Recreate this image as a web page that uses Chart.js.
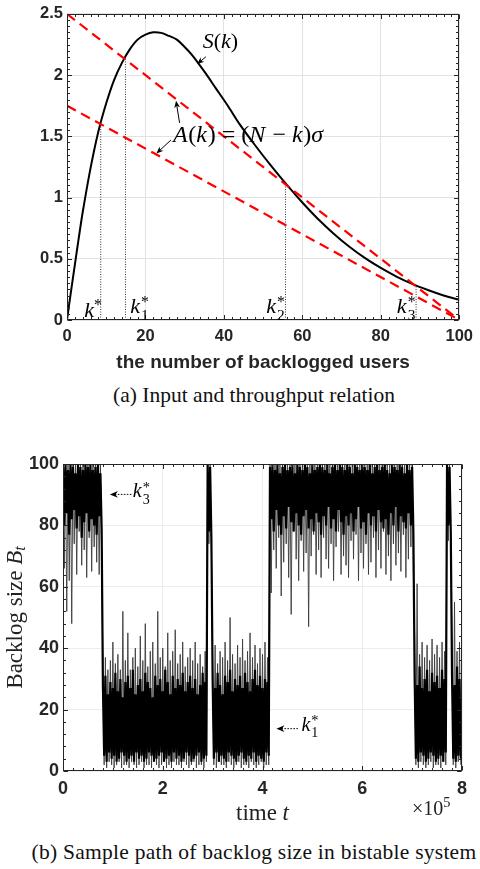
<!DOCTYPE html>
<html>
<head>
<meta charset="utf-8">
<script src="https://cdn.jsdelivr.net/npm/chart.js@4.4.1/dist/chart.umd.min.js"></script>
<style>
  body { margin: 0; background: #fff; }
  #page { position: relative; width: 480px; height: 869px; overflow: hidden; }
  .box { position: absolute; left: 0; width: 480px; }
  .caption { position: absolute; left: 14px; width: 480px; text-align: center; color: #111;
    font: 21.5px "Liberation Serif", "Times New Roman", serif; line-height: 24px; white-space: nowrap; }
</style>
</head>
<body>
<div id="page">
  <div class="box" style="top:0"><canvas id="relation" width="480" height="375"></canvas></div>
  <div class="caption" style="top:383px">(a) Input and throughput relation</div>
  <div class="box" style="top:440px"><canvas id="backlog" width="480" height="390"></canvas></div>
  <div class="caption" style="top:840px; letter-spacing:0.25px">(b) Sample path of backlog size in bistable system</div>
</div>
<script>
// (a) throughput S(k) and the two arrival lines A(k) = (N - k) sigma
const kValues = [0, 1, 2, 3, 4, 6, 8, 10, 12, 14, 16, 18, 20, 22, 24, 26, 28, 30, 32, 35, 38, 41, 44,
  48, 52, 56, 60, 64, 68, 72, 76, 80, 84, 88, 92, 96, 100];
const throughput = [0, 0.23, 0.45, 0.67, 0.88, 1.24, 1.54, 1.77, 1.96, 2.10, 2.21, 2.29, 2.33, 2.35, 2.345,
  2.32, 2.29, 2.23, 2.16, 2.03, 1.89, 1.75, 1.60, 1.425, 1.26, 1.105, 0.96, 0.825, 0.705, 0.598, 0.505,
  0.425, 0.355, 0.295, 0.245, 0.20, 0.165];
const arrivalK = [0, 100];
const arrivalSteep = [2.5, 0];
const arrivalFlat = [1.75, 0];
const fixedK = [8.6, 14.9, 55.7, 89.0];
const fixedS = [1.6, 2.13, 1.107, 0.28];
const fixedNames = ['', '1', '2', '3'];

// (b) backlog sample path, one bin = 0.05 x 10^5 slots: dense band and outer spikes
const binWidth = 0.05;
const coreHigh = [
  99, 100, 98, 100, 99, 97, 100, 99, 98, 100, 99, 100, 98, 99, 100, 97,
  28, 31, 25, 29, 27, 32, 26, 30, 24, 29, 31, 27, 33, 25, 28, 30, 26, 32, 29, 27,
  24, 31, 28, 30, 26, 33, 29, 25, 31, 27, 30, 28, 32, 26, 29, 31, 27, 30, 25, 28, 32, 29,
  100, 99,
  30, 27, 32, 28, 25, 31, 29, 33, 26, 30, 28, 31, 27, 32, 29, 26, 30, 33, 28, 31, 27, 30, 29,
  99, 100, 98, 100, 97, 99, 100, 98, 99, 100, 97, 100, 99, 98, 100, 99, 97, 100, 98, 99,
  100, 99, 98, 100, 97, 99, 100, 98, 100, 99, 98, 100, 99, 97, 100, 99, 98, 100, 99, 98,
  100, 97, 99, 100, 98, 99, 100, 98, 97, 100, 99, 98, 100, 99, 97, 100, 98, 99,
  31, 28, 34, 27, 30, 33, 26, 32, 29, 31, 27, 33, 30,
  100, 99,
  31, 28, 34, 30
];
const coreLow = [
  80, 84, 77, 82, 85, 79, 83, 76, 81, 84, 78, 82, 80, 77, 83, 79,
  5, 3, 6, 4, 5, 3, 4, 6, 5, 3, 4, 5, 3, 6, 4, 5, 3, 4, 6, 5,
  3, 4, 5, 6, 3, 4, 5, 3, 6, 4, 5, 3, 4, 6, 5, 3, 4, 5, 6, 3, 4, 5,
  78, 76,
  4, 6, 3, 5, 4, 3, 6, 5, 4, 3, 5, 6, 4, 3, 5, 4, 6, 3, 5, 4, 3, 6, 5,
  82, 78, 85, 80, 77, 83, 79, 86, 81, 78, 84, 80, 77, 83, 85, 79, 82, 78, 84, 81,
  77, 83, 80, 86, 79, 82, 78, 85, 81, 77, 83, 80, 84, 78, 82, 86, 79, 81, 77, 84,
  80, 83, 78, 85, 81, 79, 82, 77, 84, 80, 86, 78, 83, 81, 79, 84, 80, 78,
  4, 3, 6, 5, 3, 4, 6, 5, 3, 4, 5, 3, 6,
  80, 78,
  4, 3, 5, 4
];
const spikeHigh = [
  100, 100, 100, 100, 100, 100, 100, 100, 100, 100, 100, 100, 100, 100, 100, 100,
  34, 37, 33, 36, 42, 35, 38, 33, 52, 36, 45, 33, 37, 40, 34, 44, 36, 48, 34, 39,
  42, 35, 52, 37, 40, 34, 45, 36, 39, 46, 35, 38, 42, 34, 37, 40, 36, 42, 35, 38, 34, 39,
  100, 100,
  36, 41, 35, 39, 37, 42, 36, 50, 38, 35, 41, 37, 43, 36, 39, 45, 37, 41, 35, 40, 38, 42, 37,
  100, 100, 100, 100, 100, 100, 100, 100, 100, 100, 100, 100, 100, 100, 100, 100, 100, 100, 100, 100,
  100, 100, 100, 100, 100, 100, 100, 100, 100, 100, 100, 100, 100, 100, 100, 100, 100, 100, 100, 100,
  100, 100, 100, 100, 100, 100, 100, 100, 100, 100, 100, 100, 100, 100, 100, 100, 100, 100,
  44, 61, 38, 42, 37, 41, 36, 43, 38, 41, 37, 42, 39,
  100, 100,
  41, 55, 39, 42
];
const spikeLow = [
  66, 52, 62, 48, 74, 64, 78, 67, 72, 63, 76, 65, 73, 68, 64, 70,
  2, 1, 3, 2, 1, 2, 3, 1, 2, 2, 1, 3, 2, 1, 2, 3, 1, 2, 2, 1,
  3, 2, 1, 2, 3, 1, 2, 1, 3, 2, 2, 1, 3, 2, 1, 2, 3, 1, 2, 2, 1, 3,
  74, 73,
  2, 1, 3, 2, 2, 1, 3, 2, 1, 2, 3, 1, 2, 2, 1, 3, 2, 1, 2, 3, 1, 2, 2,
  58, 72, 66, 76, 57, 68, 74, 63, 51, 78, 69, 62, 75, 65, 71, 47, 70, 77, 64, 72,
  63, 76, 69, 66, 74, 62, 73, 78, 64, 70, 67, 63, 75, 69, 77, 62, 71, 66, 74, 64,
  68, 76, 63, 72, 66, 78, 64, 70, 62, 74, 67, 71, 65, 77, 63, 69, 73, 65,
  2, 1, 3, 2, 1, 2, 3, 1, 2, 2, 1, 3, 2,
  75, 74,
  2, 1, 3, 2
];

const SERIF = '"Liberation Serif", "Times New Roman", serif';
const SANS = '"Liberation Sans", Arial, Helvetica, sans-serif';

function line(xs, ys) {
  return xs.map((x, i) => ({ x: x, y: ys[i] }));
}

// each bin goes up to its top value and back down to its bottom value
function zigzag(top, bottom) {
  const pts = [];
  top.forEach((v, i) => {
    pts.push({ x: i * binWidth, y: v }, { x: (i + 0.5) * binWidth, y: bottom[i] });
  });
  return pts;
}

function mathText(ctx, x, y, runs, size) {
  for (const r of runs) {
    const s = size * (r.sc || 1);
    ctx.font = (r.it ? 'italic ' : '') + s + 'px ' + SERIF;
    ctx.fillText(r.t, x, y + (r.dy || 0) * size);
    x += ctx.measureText(r.t).width + (r.gap || 0) * size;
  }
  return x;
}

function kLabel(ctx, x, y, sub, size) {
  const runs = [{ t: 'k', it: true }];
  if (sub) {
    mathText(ctx, x, y - 4, runs, size);
    ctx.font = 'italic ' + size + 'px ' + SERIF;
    const w = ctx.measureText('k').width;
    mathText(ctx, x + w + 1, y - 4, [{ t: '*', sc: 0.72, dy: -0.28 }], size);
    mathText(ctx, x + w + 1, y, [{ t: sub, sc: 0.7, dy: 0.12 }], size);
  } else {
    runs.push({ t: '*', sc: 0.72, dy: -0.3 });
    mathText(ctx, x, y, runs, size);
  }
}

function arrow(ctx, x0, y0, x1, y1, head, dash) {
  const ang = Math.atan2(y1 - y0, x1 - x0);
  ctx.save();
  ctx.lineWidth = 1;
  if (dash) ctx.setLineDash(dash);
  ctx.beginPath();
  ctx.moveTo(x0, y0);
  ctx.lineTo(x1 - Math.cos(ang) * head * 0.6, y1 - Math.sin(ang) * head * 0.6);
  ctx.stroke();
  ctx.setLineDash([]);
  ctx.translate(x1, y1);
  ctx.rotate(ang);
  ctx.beginPath();
  ctx.moveTo(0, 0);
  ctx.lineTo(-head, -head * 0.42);
  ctx.lineTo(-head * 0.7, 0);
  ctx.lineTo(-head, head * 0.42);
  ctx.closePath();
  ctx.fill();
  ctx.restore();
}

// box round the plot with MATLAB style inward ticks on all four sides
const frame = {
  id: 'frame',
  afterDatasetsDraw(chart, args, opts) {
    const { ctx, chartArea: a, scales: { x, y } } = chart;
    const L = Math.round(a.left) + 0.5, R = Math.round(a.right) - 0.5;
    const T = Math.round(a.top) + 0.5, B = Math.round(a.bottom) - 0.5;
    ctx.save();
    ctx.strokeStyle = '#262626';
    ctx.lineWidth = 1;
    ctx.beginPath();
    const marks = (scale, minor, major, draw) => {
      const n = Math.round((scale.max - scale.min) / minor);
      for (let i = 0; i <= n; i++) {
        const v = scale.min + i * minor;
        const r = v / major;
        const len = Math.abs(r - Math.round(r)) < 1e-6 ? 4.5 : 2.5;
        draw(Math.round(scale.getPixelForValue(v)) + 0.5, len);
      }
    };
    marks(x, opts.xMinor, opts.xMajor, (p, len) => {
      ctx.moveTo(p, B); ctx.lineTo(p, B - len);
      ctx.moveTo(p, T); ctx.lineTo(p, T + len);
    });
    marks(y, opts.yMinor, opts.yMajor, (p, len) => {
      ctx.moveTo(L, p); ctx.lineTo(L + len, p);
      ctx.moveTo(R, p); ctx.lineTo(R - len, p);
    });
    ctx.stroke();
    ctx.strokeRect(L, T, R - L, B - T);
    ctx.restore();
  }
};

function axis(min, max, step, size, gridColor, width, height) {
  return {
    type: 'linear', min: min, max: max,
    grid: { color: gridColor, lineWidth: 1, drawTicks: false },
    border: { display: false },
    ticks: { stepSize: step, color: '#262626', padding: width ? 4 : 7,
      font: { family: SANS, size: size, weight: 'bold' },
      callback: (v) => String(Math.round(v * 100) / 100) },
    afterFit: (scale) => { if (width) scale.width = width; else scale.height = height; }
  };
}

const relationNotes = {
  id: 'relationNotes',
  afterDraw(chart) {
    const { ctx, chartArea: a, scales: { x, y } } = chart;
    const px = (k) => x.getPixelForValue(k), py = (v) => y.getPixelForValue(v);
    ctx.save();
    ctx.fillStyle = '#000';
    ctx.strokeStyle = '#000';
    ctx.textBaseline = 'alphabetic';
    mathText(ctx, px(34.6), py(2.22), [{ t: 'S', it: true }, { t: '(' }, { t: 'k', it: true }, { t: ')' }], 22);
    arrow(ctx, px(35.4), py(2.15), px(33.2), py(2.09), 7);
    mathText(ctx, px(27.0), py(1.45), [{ t: 'A', it: true, gap: 0.03 }, { t: '(' }, { t: 'k', it: true, gap: 0.03 },
      { t: ') = (' }, { t: 'N', it: true, gap: 0.05 }, { t: ' \u2212 ' }, { t: 'k', it: true, gap: 0.03 },
      { t: ')' }, { t: '\u03c3', it: true }], 24);
    arrow(ctx, px(28.7), py(1.61), px(27.8), py(1.79), 7);
    arrow(ctx, px(26.5), py(1.47), px(22.8), py(1.36), 7);
    const labelK = [4.4, 16.1, 50.8, 84.1];
    labelK.forEach((k, i) => kLabel(ctx, px(k), py(0.025), fixedNames[i], 22));
    ctx.font = 'bold 19px ' + SANS;
    ctx.fillStyle = '#262626';
    ctx.textAlign = 'center';
    ctx.textBaseline = 'middle';
    ctx.fillText('the number of backlogged users', (a.left + a.right) / 2, a.bottom + 43);
    ctx.restore();
  }
};

new Chart(document.getElementById('relation'), {
  type: 'line',
  data: {
    datasets: [
      { data: line(arrivalK, arrivalSteep), borderColor: '#ff0000', borderWidth: 2.2, borderDash: [10, 6], order: 0 },
      { data: line(arrivalK, arrivalFlat), borderColor: '#ff0000', borderWidth: 2.2, borderDash: [10, 6], order: 0 },
      { data: line(kValues, throughput), borderColor: '#000', borderWidth: 2, tension: 0.3, order: 1 },
      ...fixedK.map((k, i) => ({ data: line([k, k], [0, fixedS[i]]), borderColor: '#333', borderWidth: 1,
        borderDash: [1, 1.5], order: 2 }))
    ]
  },
  options: {
    responsive: false,
    animation: false,
    events: [],
    elements: { point: { radius: 0 } },
    layout: { padding: { left: 0, right: 14, top: 10, bottom: 0 } },
    scales: {
      x: axis(0, 100, 20, 16.5, '#e2e2e2', 0, 55),
      y: axis(0, 2.5, 0.5, 16.5, '#e2e2e2', 67, 0)
    },
    plugins: {
      legend: { display: false }, tooltip: { enabled: false },
      frame: { xMinor: 2, xMajor: 20, yMinor: 0.05, yMajor: 0.5 }
    }
  },
  plugins: [frame, relationNotes]
});

const backlogNotes = {
  id: 'backlogNotes',
  afterDraw(chart) {
    const { ctx, chartArea: a, scales: { x, y } } = chart;
    const px = (t) => x.getPixelForValue(t), py = (v) => y.getPixelForValue(v);
    ctx.save();
    ctx.fillStyle = '#000';
    ctx.strokeStyle = '#000';
    arrow(ctx, px(1.37), py(90.1), px(0.94), py(90.1), 8, [1.5, 1.5]);
    kLabel(ctx, px(1.40), py(87.9), '3', 20);
    arrow(ctx, px(4.71), py(13.8), px(4.28), py(13.8), 8, [1.5, 1.5]);
    kLabel(ctx, px(4.78), py(11.8), '1', 20);
    ctx.fillStyle = '#222';
    ctx.textBaseline = 'alphabetic';
    ctx.font = '23px ' + SERIF;
    const tw = ctx.measureText('time ').width;
    ctx.font = 'italic 23px ' + SERIF;
    const cx = (a.left + a.right) / 2 - (tw + ctx.measureText('t').width) / 2;
    mathText(ctx, cx, a.bottom + 49, [{ t: 'time ' }, { t: 't', it: true }], 23);
    mathText(ctx, a.right - 50, a.bottom + 44, [{ t: '\u00d710' }, { t: '5', sc: 0.72, dy: -0.42 }], 20);
    ctx.translate(16, (a.top + a.bottom) / 2);
    ctx.rotate(-Math.PI / 2);
    ctx.font = '23px ' + SERIF;
    const w1 = ctx.measureText('Backlog size ').width;
    ctx.font = 'italic 23px ' + SERIF;
    const w2 = ctx.measureText('B').width + ctx.measureText('t').width * 0.7;
    ctx.textBaseline = 'middle';
    mathText(ctx, -(w1 + w2) / 2, 0, [{ t: 'Backlog size ' }, { t: 'B', it: true }, { t: 't', it: true, sc: 0.7, dy: 0.2 }], 23);
    ctx.restore();
  }
};

new Chart(document.getElementById('backlog'), {
  type: 'line',
  data: {
    datasets: [
      { data: zigzag(coreHigh, coreLow), borderColor: '#000', borderWidth: 2.2, order: 0 },
      { data: zigzag(spikeHigh, spikeLow), borderColor: '#3c3c3c', borderWidth: 0.9, order: 1 }
    ]
  },
  options: {
    responsive: false,
    animation: false,
    events: [],
    elements: { point: { radius: 0 }, line: { tension: 0, borderJoinStyle: 'bevel' } },
    layout: { padding: { left: 0, right: 18, top: 24, bottom: 0 } },
    scales: {
      x: axis(0, 8, 2, 18, '#ececec', 0, 59),
      y: axis(0, 100, 20, 18, '#ececec', 63, 0)
    },
    plugins: {
      legend: { display: false }, tooltip: { enabled: false },
      frame: { xMinor: 0.2, xMajor: 2, yMinor: 4, yMajor: 20 }
    }
  },
  plugins: [frame, backlogNotes]
});
</script>
</body>
</html>
